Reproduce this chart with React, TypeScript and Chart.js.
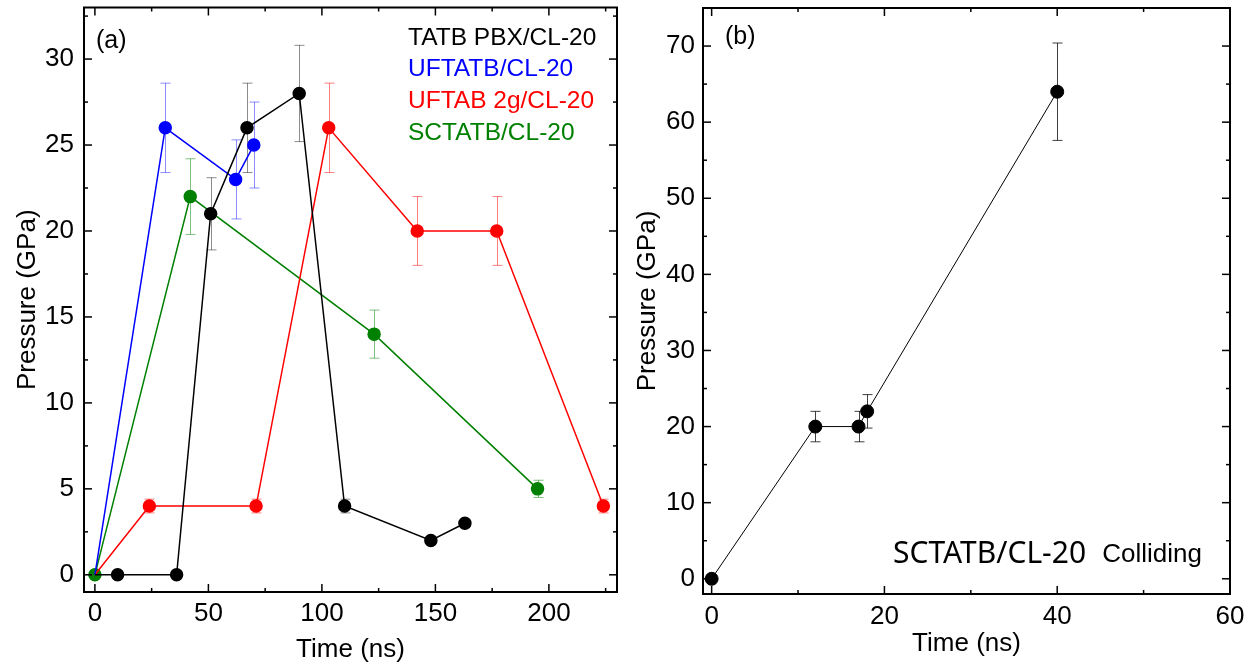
import React, { useEffect, useRef } from 'react';
import { Chart, registerables } from 'chart.js';
Chart.register(...registerables);

// ---------- Panel (a) data ----------
const seriesNames = ['TATB PBX/CL-20', 'UFTATB/CL-20', 'UFTAB 2g/CL-20', 'SCTATB/CL-20'];
const seriesColors = ['#000000', '#0000ff', '#ff0000', '#008000'];
const errColors = ['rgba(0,0,0,0.45)', 'rgba(0,0,255,0.45)', 'rgba(255,0,0,0.5)', 'rgba(0,128,0,0.5)'];

const tatbTime = [0, 10, 36, 51, 67, 90, 110, 148, 163];
const tatbP = [0, 0, 0, 21, 26, 28, 4, 2, 3];
const tatbErr = [0, 0, 0, 2.1, 2.6, 2.8, 0.4, 0.2, 0.2];

const uftatbTime = [0, 31, 62, 70];
const uftatbP = [0, 26, 23, 25];
const uftatbErr = [0, 2.6, 2.3, 2.5];

const uftabTime = [0, 24, 71, 103, 142, 177, 224];
const uftabP = [0, 4, 4, 26, 20, 20, 4];
const uftabErr = [0, 0.4, 0.4, 2.6, 2.0, 2.0, 0.4];

const sctatbTime = [0, 42, 123, 195];
const sctatbP = [0, 22, 14, 5];
const sctatbErr = [0, 2.2, 1.4, 0.5];

const xTicksA = [0, 50, 100, 150, 200];
const xMinorA = [25, 75, 125, 175, 225];
const yTicksA = [0, 5, 10, 15, 20, 25, 30];
const yMinorA = [2.5, 7.5, 12.5, 17.5, 22.5, 27.5, 32.5];

// ---------- Panel (b) data ----------
const collTime = [0, 12, 17, 18, 40];
const collP = [0, 20, 20, 22, 64];
const collErr = [0, 2, 2, 2.2, 6.4];

const xTicksB = [0, 20, 40, 60];
const xMinorB = [10, 30, 50];
const yTicksB = [0, 10, 20, 30, 40, 50, 60, 70];
const yMinorB = [5, 15, 25, 35, 45, 55, 65];

const SANS = '"Liberation Sans", Arial, sans-serif';

const toPts = (xs: number[], ys: number[]) => xs.map((x, i) => ({ x, y: ys[i] }));

const framePlugin = {
  id: 'frame',
  afterDatasetsDraw(chart: any) {
    const o = chart.options.plugins.frame;
    if (!o) return;
    const { ctx, chartArea: a, scales } = chart;
    const sx = scales.x, sy = scales.y;
    ctx.save();
    ctx.strokeStyle = '#000';
    const line = (x1: number, y1: number, x2: number, y2: number) => {
      ctx.beginPath(); ctx.moveTo(x1, y1); ctx.lineTo(x2, y2); ctx.stroke();
    };
    ctx.lineWidth = 1.5;
    const drawX = (vals: number[], len: number) => vals.forEach(v => {
      const p = sx.getPixelForValue(v);
      line(p, a.bottom, p, a.bottom - len);
      line(p, a.top, p, a.top + len);
    });
    const drawY = (vals: number[], len: number) => vals.forEach(v => {
      const p = sy.getPixelForValue(v);
      line(a.left, p, a.left + len, p);
      line(a.right, p, a.right - len, p);
    });
    drawX(o.xMajor, 8); drawX(o.xMinor, 4);
    drawY(o.yMajor, 8); drawY(o.yMinor, 4);
    ctx.lineWidth = 2;
    ctx.strokeRect(a.left, a.top, a.right - a.left, a.bottom - a.top);
    ctx.restore();
  },
};

const errorPlugin = {
  id: 'errbars',
  beforeDatasetsDraw(chart: any) {
    const { ctx, scales } = chart;
    const sx = scales.x, sy = scales.y;
    ctx.save();
    chart.data.datasets.forEach((ds: any) => {
      if (!ds.errors) return;
      ctx.strokeStyle = ds.errColor;
      ctx.lineWidth = 1;
      ds.data.forEach((pt: any, i: number) => {
        const e = ds.errors[i];
        if (!e) return;
        const px = Math.round(sx.getPixelForValue(pt.x)) + 0.5;
        const yt = sy.getPixelForValue(pt.y + e);
        const yb = sy.getPixelForValue(pt.y - e);
        ctx.beginPath();
        ctx.moveTo(px, yt); ctx.lineTo(px, yb);
        ctx.moveTo(px - 5, yt); ctx.lineTo(px + 5, yt);
        ctx.moveTo(px - 5, yb); ctx.lineTo(px + 5, yb);
        ctx.stroke();
      });
    });
    ctx.restore();
  },
};

const textPlugin = {
  id: 'texts',
  afterDraw(chart: any) {
    const o = chart.options.plugins.texts;
    if (!o) return;
    const { ctx } = chart;
    ctx.save();
    o.items.forEach((t: any) => {
      ctx.font = t.font;
      ctx.fillStyle = t.color || '#000';
      ctx.textAlign = t.align || 'left';
      ctx.textBaseline = t.baseline || 'middle';
      ctx.fillText(t.text, t.x, t.y);
    });
    ctx.restore();
  },
};

function makeScales(opts: any) {
  return {
    x: {
      type: 'linear', min: opts.xmin, max: opts.xmax,
      afterBuildTicks: (s: any) => { s.ticks = opts.xTicks.map((v: number) => ({ value: v })); },
      afterFit: (s: any) => { s.height = opts.xh; s.paddingLeft = 0; s.paddingRight = 0; },
      grid: { display: false, drawTicks: false }, border: { display: false },
      ticks: { font: { family: SANS, size: 26 }, color: '#000', padding: opts.xpad, maxRotation: 0, autoSkip: false },
      title: { display: true, text: 'Time (ns)', color: '#000', font: { family: SANS, size: 26 }, padding: { top: 0, bottom: opts.xtpad } },
    },
    y: {
      type: 'linear', min: opts.ymin, max: opts.ymax,
      afterBuildTicks: (s: any) => { s.ticks = opts.yTicks.map((v: number) => ({ value: v })); },
      afterFit: (s: any) => { s.width = opts.yw; s.paddingTop = 0; s.paddingBottom = 0; },
      grid: { display: false, drawTicks: false }, border: { display: false },
      ticks: { font: { family: SANS, size: 26 }, color: '#000', padding: opts.ypad, autoSkip: false },
      title: { display: true, text: 'Pressure (GPa)', color: '#000', font: { family: SANS, size: 26 }, padding: { top: opts.ytpad, bottom: 0 } },
    },
  };
}

function PanelA() {
  const ref = useRef<HTMLCanvasElement>(null);
  useEffect(() => {
    const times = [tatbTime, uftatbTime, uftabTime, sctatbTime];
    const vals = [tatbP, uftatbP, uftabP, sctatbP];
    const errs = [tatbErr, uftatbErr, uftabErr, sctatbErr];
    const datasets = seriesNames.map((name, k) => ({
      label: name,
      data: toPts(times[k], vals[k]),
      errors: errs[k],
      errColor: errColors[k],
      showLine: true,
      borderColor: seriesColors[k],
      backgroundColor: seriesColors[k],
      pointBackgroundColor: seriesColors[k],
      pointBorderColor: seriesColors[k],
      borderWidth: 1.5,
      pointRadius: k === 3 ? 6 : (c: any) => (c.dataIndex === 0 ? 0 : 6),
      pointHoverRadius: 6,
      tension: 0,
    }));
    const chart = new Chart(ref.current!, {
      type: 'scatter',
      data: { datasets },
      options: {
        responsive: false, animation: false,
        layout: { padding: { top: 7, right: 13, bottom: 0, left: 0 } },
        scales: makeScales({
          xmin: -4.8, xmax: 230, ymin: -1, ymax: 33,
          xTicks: xTicksA, yTicks: yTicksA,
          xh: 75, yw: 84, xpad: 6, ypad: 10, xtpad: 2, ytpad: 12,
        }) as any,
        plugins: {
          legend: { display: false }, tooltip: { enabled: false },
          frame: { xMajor: xTicksA, xMinor: xMinorA, yMajor: yTicksA, yMinor: yMinorA },
          texts: {
            items: [
              { text: '(a)', x: 96, y: 41, font: `25px ${SANS}` },
              ...seriesNames.map((n, k) => ({ text: n, x: 408, y: 38 + k * 31.7, font: `24.5px ${SANS}`, color: seriesColors[k] })),
            ],
          },
        } as any,
      },
      plugins: [errorPlugin, framePlugin, textPlugin],
    });
    return () => chart.destroy();
  }, []);
  return <canvas ref={ref} width={630} height={667} style={{ position: 'absolute', left: 0, top: 0 }} />;
}

function PanelB() {
  const ref = useRef<HTMLCanvasElement>(null);
  useEffect(() => {
    const chart = new Chart(ref.current!, {
      type: 'scatter',
      data: {
        datasets: [{
          label: 'SCTATB/CL-20 Colliding',
          data: toPts(collTime, collP),
          errors: collErr,
          errColor: 'rgba(0,0,0,0.75)',
          showLine: true,
          borderColor: '#000', backgroundColor: '#000',
          pointBackgroundColor: '#000', pointBorderColor: '#000',
          borderWidth: 1, pointRadius: 6.5, tension: 0,
        } as any],
      },
      options: {
        responsive: false, animation: false,
        layout: { padding: { top: 8, right: 27, bottom: 0, left: 0 } },
        scales: makeScales({
          xmin: -1, xmax: 60, ymin: -2, ymax: 75,
          xTicks: xTicksB, yTicks: yTicksB,
          xh: 73, yw: 73, xpad: 7, ypad: 8, xtpad: 8, ytpad: 2,
        }) as any,
        plugins: {
          legend: { display: false }, tooltip: { enabled: false },
          frame: { xMajor: xTicksB, xMinor: xMinorB, yMajor: yTicksB, yMinor: yMinorB },
          texts: {
            items: [
              { text: '(b)', x: 95, y: 37, font: `25px ${SANS}` },
              { text: 'SCTATB/CL-20', x: 263, y: 563, font: `30px "Noto Sans", "Open Sans", sans-serif`, baseline: 'alphabetic' },
              { text: 'Colliding', x: 572, y: 562, font: `26px ${SANS}`, align: 'right', baseline: 'alphabetic' },
            ],
          },
        } as any,
      },
      plugins: [errorPlugin, framePlugin, textPlugin],
    });
    return () => chart.destroy();
  }, []);
  return <canvas ref={ref} width={627} height={667} style={{ position: 'absolute', left: 630, top: 0 }} />;
}

export default function App() {
  return (
    <div style={{ position: 'fixed', left: 0, top: 0, width: 1257, height: 667, background: '#fff', overflow: 'hidden' }}>
      <PanelA />
      <PanelB />
    </div>
  );
}
